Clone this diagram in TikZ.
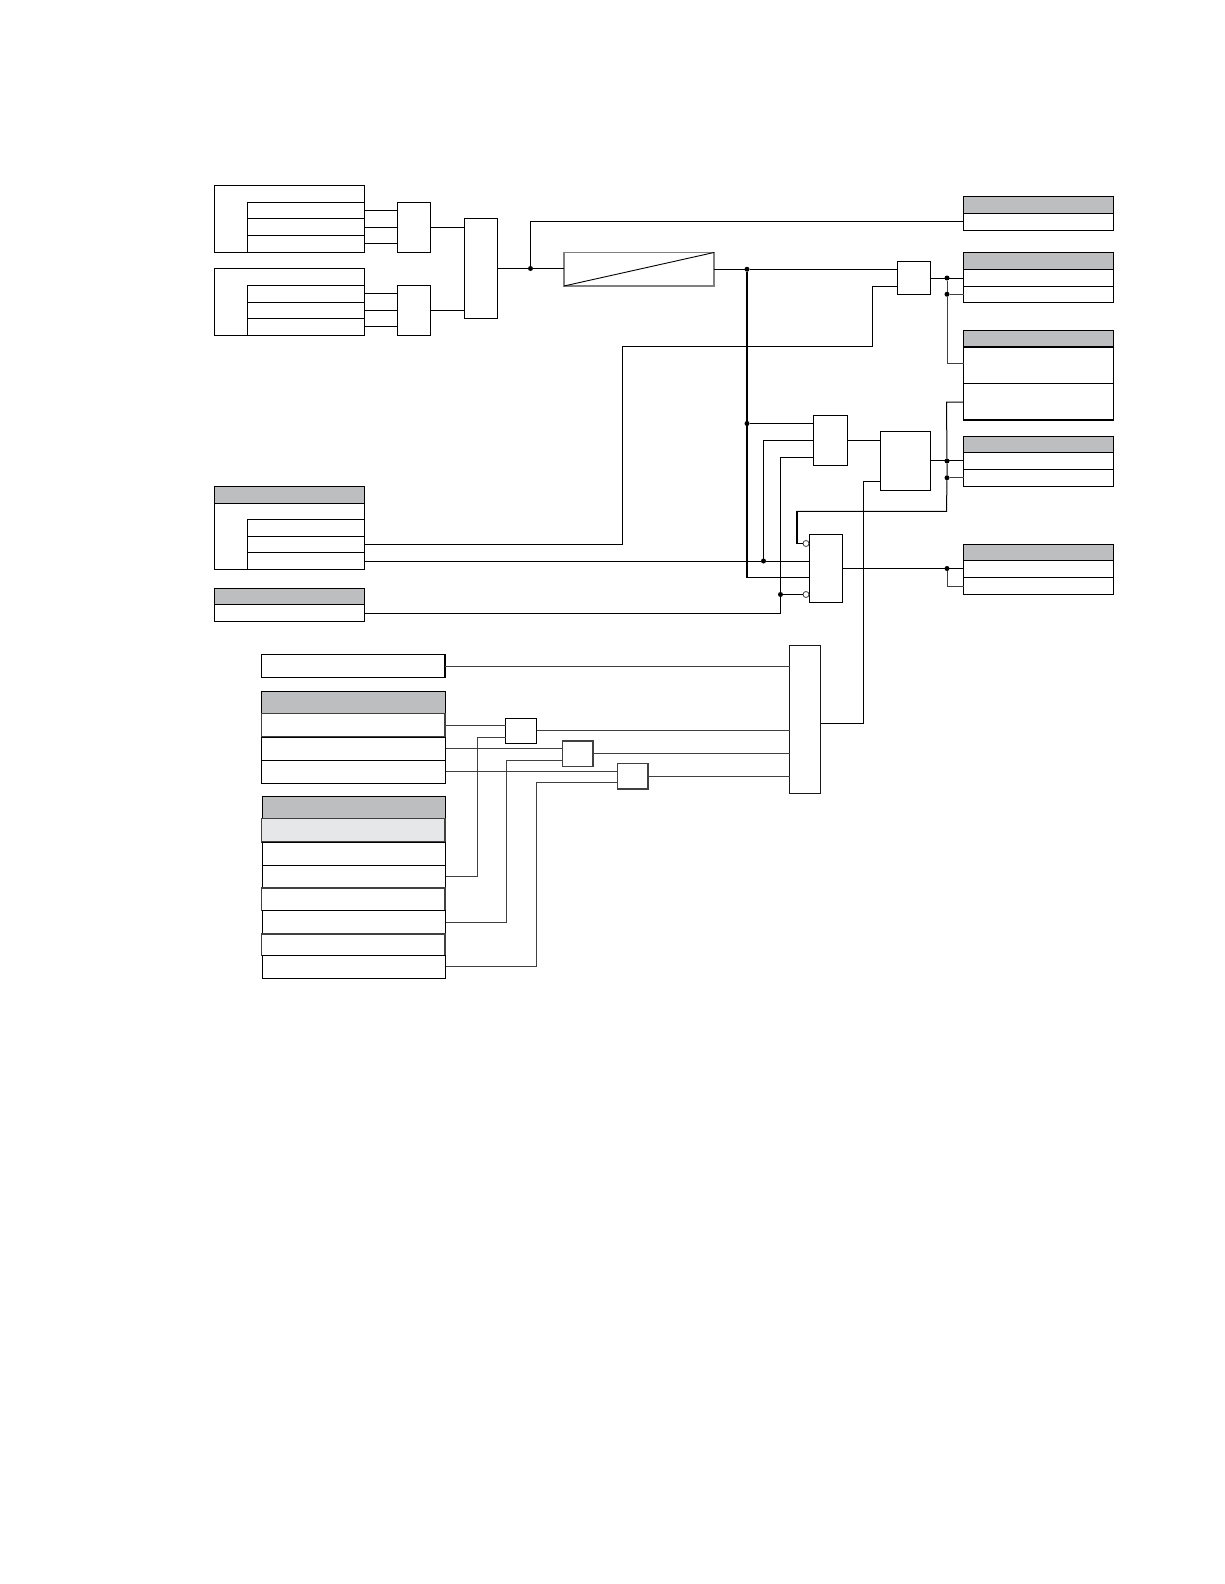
\documentclass[tikz,border=0pt]{standalone}
\definecolor{hdr}{HTML}{BCBEC0}
\definecolor{lite}{HTML}{E6E7E8}
\definecolor{dk}{HTML}{404040}
\tikzset{
  bx/.style={draw=black,fill=white,line width=1pt,inner sep=0pt,outer sep=0pt},
  hd/.style={bx,fill=hdr},
  lt/.style={bx,fill=lite,draw=dk,line width=1.2pt},
  sf/.style={bx,draw=dk,line width=1.1pt},
  dkb/.style={bx,draw=black,line width=1.4pt},
  hv/.style={bx,line width=1.8pt},
  mx/.style={bx,draw=black!90,line width=1.4pt},
  dl/.style={bx,draw=black!50,line width=1.1pt},
  dot/.style={circle,fill=black,draw=none,minimum size=5pt,inner sep=0pt,outer sep=0pt},
  bub/.style={circle,fill=white,draw=dk,line width=.8pt,minimum size=6pt,inner sep=0pt,outer sep=0pt},
  wire/.style={line width=1pt,draw=black},
  wired/.style={line width=1pt,draw=dk},
  bus/.style={line width=2pt,draw=black},
}
% name, x1, y1, x2, y2, style
\newcommand{\bxn}[6]{%
  \pgfmathsetmacro{\bw}{#4-#2}\pgfmathsetmacro{\bh}{#5-#3}%
  \pgfmathsetmacro{\bcx}{(#2+#4)/2}\pgfmathsetmacro{\bcy}{(#3+#5)/2}%
  \node[#6,minimum width=\bw pt,minimum height=\bh pt] (#1) at (\bcx,\bcy) {};}
\begin{document}
\begin{tikzpicture}[x=1pt,y=-1pt]
\useasboundingbox (0,0) rectangle (1224,1584);
\fill[white] (0,0) rectangle (1224,1584);
% left groups
\bxn{A}{214.5}{185.5}{364.5}{252}{bx}
\bxn{Aa}{247.5}{202.5}{364.5}{218.5}{bx}
\bxn{Ab}{247.5}{218.5}{364.5}{235.5}{bx}
\bxn{Ac}{247.5}{235.5}{364.5}{252}{bx}
\bxn{B}{214.5}{268.5}{364.5}{335}{bx}
\bxn{Ba}{247.5}{285.5}{364.5}{302}{bx}
\bxn{Bb}{247.5}{302}{364.5}{318.5}{bx}
\bxn{Bc}{247.5}{318.5}{364.5}{335}{bx}
\bxn{orA}{397}{202.5}{430.5}{252}{bx}
\bxn{orB}{397}{285.5}{430.5}{335}{bx}
\bxn{orC}{464.5}{218.5}{497.5}{318.5}{bx}
\bxn{delay}{564}{252.5}{714}{286}{dl}
% left group 3 and 4
\bxn{Lh}{214.5}{486.5}{364.5}{503.5}{hd}
\bxn{L}{214.5}{503.5}{364.5}{569.5}{bx}
\bxn{La}{247.5}{519.5}{364.5}{536.5}{bx}
\bxn{Lb}{247.5}{536.5}{364.5}{552.5}{bx}
\bxn{Lc}{247.5}{552.5}{364.5}{569.5}{bx}
\bxn{Mh}{214.5}{588.5}{364.5}{604.5}{hd}
\bxn{Ma}{214.5}{604.5}{364.5}{621.5}{bx}
% lower left tables
\bxn{top}{261.5}{654.5}{445}{677.5}{dkb}
\bxn{Th}{261.5}{691.3}{445.5}{713.5}{hd}
\bxn{Ta}{261.5}{713.5}{445}{737}{sf}
\bxn{Tb}{261.5}{737}{445.5}{760}{bx}
\bxn{Tc}{261.5}{760}{445.5}{783.5}{bx}
\bxn{Uh}{262.5}{796.7}{445.5}{818.7}{hd}
\bxn{U0}{261.5}{818.7}{445}{842}{lt}
\bxn{U1}{262.5}{842}{445.5}{865.3}{bx}
\bxn{U2}{262.5}{865.3}{445.5}{888}{bx}
\bxn{U3}{261.5}{888}{445}{910.5}{sf}
\bxn{U4}{262.5}{910.5}{445.5}{934}{bx}
\bxn{U5}{261.5}{934}{445}{955.5}{sf}
\bxn{U6}{262.5}{955.5}{445.5}{978.3}{bx}
% small gates
\bxn{gA}{505.7}{718}{536.7}{743.3}{bx}
\bxn{gB}{562.3}{741}{593}{766.3}{sf}
\bxn{gC}{617.3}{763.7}{648}{789}{sf}
\bxn{mux}{789.7}{645.7}{820.7}{793.3}{mx}
% middle gates
\bxn{andA}{897.5}{261.5}{930.5}{294.5}{bx}
\bxn{andB}{813.5}{415}{847.5}{465.5}{bx}
\bxn{bigB}{880.5}{431.5}{930.5}{490}{bx}
\bxn{gD}{809.5}{534.5}{842.5}{602.5}{bx}
% right groups
\bxn{Rh}{963.5}{196.5}{1113.5}{213.5}{hd}
\bxn{Ra}{963.5}{213.5}{1113.5}{230.5}{bx}
\bxn{Sh}{963.5}{252.5}{1113.5}{269.5}{hd}
\bxn{Sa}{963.5}{269.5}{1113.5}{286.5}{bx}
\bxn{Sb}{963.5}{286.5}{1113.5}{302}{bx}
\bxn{Vh}{963.5}{330.5}{1113.5}{347}{hd}
\bxn{Va}{963.5}{347}{1113.5}{383.5}{hv}
\bxn{Vb}{963.5}{383.5}{1113.5}{420}{hv}
\bxn{Wh}{963.5}{436.5}{1113.5}{452.5}{hd}
\bxn{Wa}{963.5}{452.5}{1113.5}{469.5}{bx}
\bxn{Wb}{963.5}{469.5}{1113.5}{486}{bx}
\bxn{Xh}{963.5}{544.5}{1113.5}{560.5}{hd}
\bxn{Xa}{963.5}{560.5}{1113.5}{577.5}{bx}
\bxn{Xb}{963.5}{577.5}{1113.5}{594.5}{bx}
% junctions
\node[dot] (j1) at (530.5,268.5) {};
\node[dot] (j2) at (747,269.25) {};
\node[dot] (j3) at (747,423.5) {};
\node[dot] (j4) at (763.5,561) {};
\node[dot] (j5) at (780.5,594.5) {};
\node[dot] (j6) at (947,278) {};
\node[dot] (j7) at (947,294.25) {};
\node[dot] (j8) at (947,461) {};
\node[dot] (j9) at (947,477.75) {};
\node[dot] (j10) at (947,568.5) {};
\node[bub] (bA) at (806,543.5) {};
\node[bub] (bB) at (806,594.5) {};
% bend points
\coordinate (w0) at (530.5,221.5);
\coordinate (w1) at (622,346);
\coordinate (w2) at (872.5,286);
\coordinate (w3) at (947,363.3);
\coordinate (w4) at (946.5,402);
\coordinate (w5) at (946.5,511.3);
\coordinate (w6) at (796.7,511.3);
\coordinate (w7) at (763.5,440.25);
\coordinate (w8) at (780.5,457.5);
\coordinate (w9) at (747,577.5);
\coordinate (w10) at (863.7,723);
\coordinate (w11) at (863.7,481);
\coordinate (w12) at (477.3,737.3);
\coordinate (w13) at (506.4,760.5);
\coordinate (w14) at (536.4,782.5);
% connectors
\begin{scope}[wire]
\draw (Aa.east) -- (Aa.east -| orA.west);
\draw (Ab.east) -- (Ab.east -| orA.west);
\draw (Ac.east) -- (Ac.east -| orA.west);
\draw (Ba.east) -- (Ba.east -| orB.west);
\draw (Bb.east) -- (Bb.east -| orB.west);
\draw (Bc.east) -- (Bc.east -| orB.west);
\draw (orA.east) -- (orA.east -| orC.west);
\draw (orB.east) -- (orB.east -| orC.west);
\draw (orC.east) -- (j1) -- (j1 -| delay.west);
\draw (j1) -- (w0) -- (w0 -| Ra.west);
\draw (delay.east) -- (j2) -- (j2 -| andA.west);
\draw (Lb.east) -| (w1) -- (w1 -| w2) -- (w2) -- (w2 -| andA.west);
\draw (andA.east) -- (andA.east -| Sa.west);
\draw (j3) -- (j3 -| andB.west);
\draw (j4) |- (w7) -- (w7 -| andB.west);
\draw (Ma.east) -| (j5) -- (w8) -- (w8 -| andB.west);
\draw (andB.east) -- (andB.east -| bigB.west);
\draw (bigB.east) -- (bigB.east -| Wa.west);
\draw (Lc.east) -- (j4) -- (j4 -| gD.west);
\draw (w9) -- (w9 -| gD.west);
\draw (j5) -- (bB);
\draw (gD.east) -- (gD.east -| Xa.west);
\draw (w10 -| mux.east) -- (w10) -- (w11) -- (w11 -| bigB.west);
\draw (w4 -| Vb.west) -- (w4) -- (j8) -- (j9) -- (w5) -- (w6);
\draw[bus] (j2) -- (w9);
\draw[line width=1.8pt] (w6) -- (w6 |- bA) -- (bA);
\end{scope}
\begin{scope}[wired]
\draw (j6) -- (j7) -- (w3) -- (w3 -| Va.west);
\draw (j7) -- (Sb.west);
\draw (j9) -- (Wb.west);
\draw (j10) |- (Xb.west);
\draw (top.east) -- (top.east -| mux.west);
\draw (Ta.east) -- (Ta.east -| gA.west);
\draw (Tb.east) -- (Tb.east -| gB.west);
\draw (Tc.east) -- (Tc.east -| gC.west);
\draw (gA.east) -- (gA.east -| mux.west);
\draw (gB.east) -- (gB.east -| mux.west);
\draw (gC.east) -- (gC.east -| mux.west);
\draw (U2.east) -| (w12) -- (w12 -| gA.west);
\draw (U4.east) -| (w13) -- (w13 -| gB.west);
\draw (U6.east) -| (w14) -- (w14 -| gC.west);
\end{scope}
\draw[line width=.9pt] (delay.south west) -- (delay.north east);
\end{tikzpicture}
\end{document}
